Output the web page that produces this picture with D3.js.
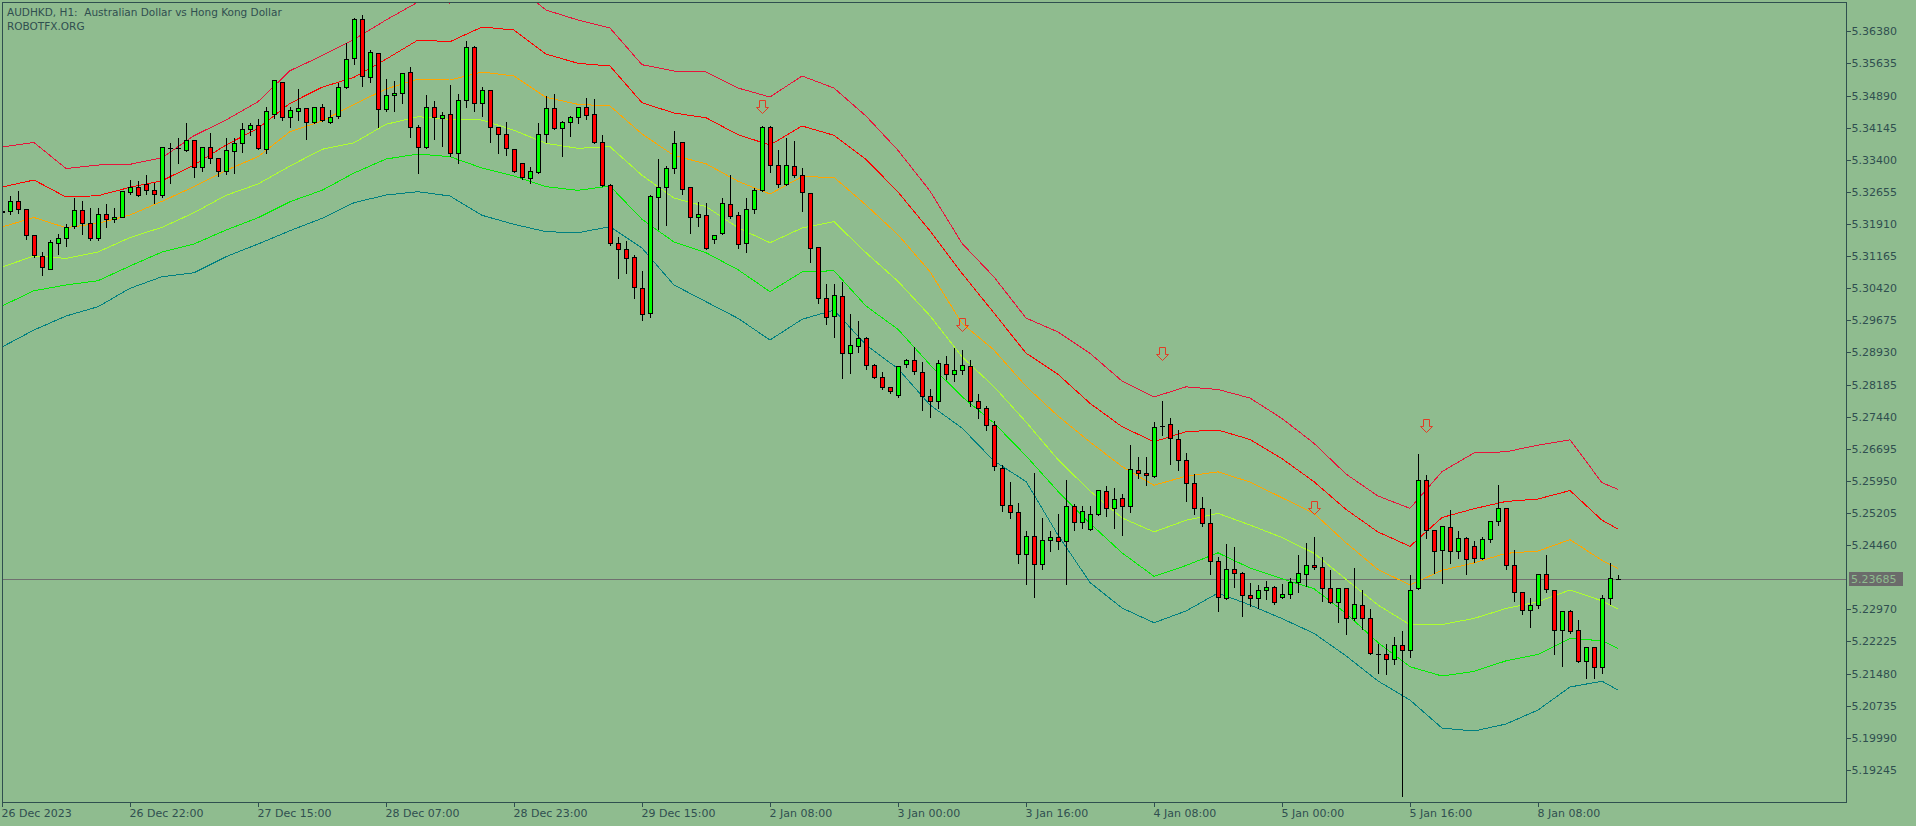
<!DOCTYPE html>
<html>
<head>
<meta charset="utf-8">
<title>AUDHKD, H1</title>
<script src="https://d3js.org/d3.v7.min.js"></script>
<style>
	body{
		margin: 0;
		background: #8fbc8f;
		overflow: hidden;
	}
	svg{
		display: block;
	}
	text{
		font-family: "DejaVu Sans", sans-serif;
		fill: #2f4f4f;
	}
</style>
</head>
<body>
<script>
// AUDHKD H1 candles, oldest first
var opens = [5.32199,5.32204,5.32443,5.32250,5.31647,5.31167,5.30872,5.31461,5.31577,5.31870,
5.32227,5.31925,5.31584,5.32134,5.32018,5.32079,5.32659,5.32775,5.32844,5.32691,
5.32575,5.33679,5.33665,5.33619,5.33851,5.33225,5.33696,5.33433,5.33132,5.33596,
5.33781,5.34113,5.34199,5.33642,5.34454,5.35211,5.34385,5.34524,5.34607,5.34269,
5.34631,5.34269,5.34426,5.35099,5.35753,5.36665,5.35313,5.35876,5.34570,5.34895,
5.34941,5.35429,5.34153,5.33689,5.34617,5.34361,5.34454,5.33549,5.34779,5.36009,
5.34709,5.35011,5.34167,5.33990,5.33649,5.33317,5.32969,5.33123,5.33990,5.34593,
5.34143,5.34269,5.34385,5.34617,5.34454,5.33819,5.32807,5.31461,5.31322,5.31137,
5.30417,5.29837,5.32529,5.32761,5.33201,5.33805,5.32761,5.32079,5.32111,5.31554,
5.31693,5.32366,5.32111,5.31461,5.32250,5.32691,5.34153,5.33271,5.32830,5.33248,
5.33039,5.32621,5.31376,5.30185,5.29768,5.30232,5.28909,5.29086,5.29271,5.28631,
5.28353,5.28121,5.27935,5.28661,5.28747,5.28469,5.27912,5.27796,5.28654,5.28422,
5.28515,5.28608,5.27796,5.27633,5.27246,5.26241,5.25390,5.25221,5.24246,5.24664,
5.24014,5.24571,5.24641,5.24548,5.25360,5.24989,5.24826,5.25174,5.25708,5.25313,
5.25545,5.25360,5.26195,5.26125,5.26056,5.27230,5.27262,5.26914,5.26427,5.25893,
5.25313,5.24965,5.24084,5.23225,5.23898,5.23805,5.23295,5.23225,5.23411,5.23481,
5.23249,5.23318,5.23597,5.23782,5.23991,5.23945,5.23457,5.23133,5.23457,5.22761,
5.23063,5.22761,5.21940,5.21926,5.21810,5.22135,5.22026,5.23457,5.25963,5.24803,
5.24339,5.24873,5.24316,5.24617,5.24432,5.24153,5.24594,5.25012,5.25313,5.23991,
5.23365,5.22947,5.23063,5.23782,5.23411,5.22484,5.22924,5.22484,5.21764,5.22089,
5.21625,5.23225,5.23685]
var highs = [5.32280,5.32582,5.32698,5.32273,5.31666,5.31290,5.31554,5.31693,5.31925,5.32529,
5.32466,5.32304,5.32304,5.32396,5.32311,5.32698,5.32946,5.32930,5.33069,5.32891,
5.33719,5.33819,5.33921,5.34269,5.33870,5.33707,5.34037,5.33452,5.33928,5.33928,
5.34269,5.34269,5.34368,5.34640,5.35273,5.35234,5.34647,5.35057,5.34631,5.34647,
5.34709,5.34570,5.35211,5.36125,5.36705,5.36781,5.35969,5.35900,5.35289,5.35250,
5.35429,5.35575,5.34222,5.34925,5.34786,5.34531,5.35157,5.34941,5.36178,5.36062,
5.35111,5.35030,5.34190,5.34299,5.33679,5.33331,5.33255,5.34269,5.34895,5.34955,
5.34322,5.34445,5.34647,5.34856,5.34825,5.33990,5.32867,5.31638,5.31538,5.31213,
5.30842,5.32605,5.33433,5.33278,5.34090,5.33823,5.32791,5.32443,5.32420,5.31670,
5.32529,5.33069,5.32211,5.32529,5.32761,5.34206,5.34199,5.33642,5.33921,5.33858,
5.33239,5.32640,5.31399,5.30533,5.30533,5.30580,5.29837,5.29675,5.29318,5.28677,
5.28492,5.28158,5.28638,5.28793,5.29072,5.28724,5.28097,5.28770,5.28863,5.29049,
5.29002,5.28770,5.27981,5.27710,5.27362,5.26341,5.25947,5.25453,5.24810,5.26149,
5.25105,5.24810,5.25204,5.25986,5.25429,5.25397,5.25390,5.25754,5.25847,5.25808,
5.25661,5.26798,5.26534,5.26534,5.27339,5.27826,5.27425,5.27146,5.26613,5.26125,
5.25592,5.25313,5.24200,5.24501,5.24432,5.23852,5.23597,5.23550,5.23643,5.23527,
5.23573,5.23713,5.24246,5.24525,5.24664,5.24200,5.23898,5.23495,5.23495,5.23945,
5.23434,5.22993,5.22181,5.22181,5.22344,5.22490,5.23789,5.26603,5.26109,5.24822,
5.24919,5.25297,5.24803,5.24664,5.24571,5.24664,5.25042,5.25870,5.25337,5.24362,
5.23383,5.23249,5.23805,5.24246,5.23434,5.22957,5.22970,5.22738,5.22096,5.22100,
5.23318,5.24061,5.23789]
var lows = [5.32164,5.32141,5.32171,5.31568,5.31151,5.30726,5.30858,5.31213,5.31399,5.31809,
5.31670,5.31538,5.31538,5.31847,5.31963,5.32065,5.32598,5.32559,5.32598,5.32403,
5.32543,5.32853,5.33331,5.33603,5.32993,5.33146,5.33317,5.33023,5.33069,5.33099,
5.33587,5.33967,5.33654,5.33549,5.34361,5.34322,5.34153,5.34322,5.33874,5.34245,
5.34306,5.34245,5.34368,5.35057,5.35614,5.35122,5.35215,5.34167,5.34538,5.34538,
5.34723,5.33935,5.33099,5.33672,5.33888,5.33726,5.33494,5.33331,5.34631,5.34538,
5.34415,5.33819,5.33549,5.33510,5.33109,5.32960,5.32867,5.33085,5.33819,5.34106,
5.33494,5.33951,5.34252,5.34345,5.33781,5.32791,5.31422,5.30663,5.30765,5.30199,
5.29682,5.29745,5.31786,5.31886,5.33099,5.32598,5.31707,5.31863,5.31329,5.31475,
5.31677,5.32055,5.31345,5.31267,5.32157,5.32675,5.33123,5.32761,5.32814,5.33007,
5.32218,5.31035,5.30083,5.29582,5.29295,5.28329,5.28445,5.28947,5.28538,5.28329,
5.28074,5.27981,5.27889,5.28585,5.28422,5.27587,5.27425,5.27647,5.28306,5.28260,
5.28422,5.27680,5.27401,5.27130,5.26202,5.25258,5.25095,5.24051,5.23550,5.23249,
5.23898,5.24330,5.24376,5.23550,5.24810,5.24863,5.24803,5.25151,5.25128,5.24856,
5.24687,5.25221,5.26009,5.25847,5.26040,5.27014,5.26348,5.26195,5.25490,5.25174,
5.24910,5.23782,5.22924,5.23202,5.23495,5.22808,5.23040,5.23007,5.23202,5.23086,
5.23232,5.23225,5.23365,5.23504,5.23898,5.23156,5.23109,5.22669,5.22390,5.22715,
5.22506,5.21926,5.21485,5.21462,5.21694,5.18639,5.21871,5.23441,5.24617,5.23819,
5.23587,5.24051,5.24167,5.23796,5.24061,5.24130,5.24525,5.24919,5.23898,5.23156,
5.22854,5.22567,5.22993,5.23365,5.21926,5.21648,5.22413,5.21741,5.21370,5.21370,
5.21485,5.23086,5.23673]
var closes = [5.32222,5.32443,5.32250,5.31647,5.31183,5.30905,5.31485,5.31577,5.31847,5.32227,
5.31925,5.31584,5.32134,5.32018,5.32079,5.32675,5.32775,5.32575,5.32691,5.32598,
5.33696,5.33679,5.33665,5.33851,5.33232,5.33689,5.33433,5.33132,5.33619,5.33781,
5.34113,5.34199,5.33677,5.34524,5.35250,5.34385,5.34554,5.34607,5.34269,5.34631,
5.34322,5.34399,5.35081,5.35749,5.36665,5.35343,5.35893,5.34570,5.34895,5.34941,
5.35405,5.34167,5.33689,5.34617,5.34385,5.34431,5.33549,5.34779,5.36009,5.34709,
5.35011,5.34167,5.33990,5.33665,5.33132,5.32993,5.33139,5.33990,5.34593,5.34143,
5.34269,5.34385,5.34617,5.34431,5.33819,5.32807,5.31461,5.31322,5.31113,5.30455,
5.29814,5.32559,5.32761,5.33201,5.33781,5.32714,5.32079,5.32134,5.31357,5.31659,
5.32389,5.32102,5.31438,5.32250,5.32691,5.34153,5.33271,5.32830,5.33271,5.33039,
5.32652,5.31345,5.30185,5.29745,5.30255,5.28909,5.29095,5.29271,5.28631,5.28353,
5.28121,5.28028,5.28619,5.28747,5.28492,5.27912,5.27796,5.28677,5.28422,5.28515,
5.28631,5.27796,5.27633,5.27246,5.26295,5.25390,5.25221,5.24246,5.24664,5.24014,
5.24571,5.24641,5.24548,5.25360,5.24989,5.25244,5.25174,5.25731,5.25313,5.25522,
5.25360,5.26218,5.26125,5.26079,5.27193,5.27230,5.26937,5.26427,5.25893,5.25313,
5.24965,5.24084,5.23249,5.23898,5.23805,5.23295,5.23225,5.23411,5.23481,5.23133,
5.23318,5.23597,5.23805,5.23991,5.23945,5.23457,5.23133,5.23457,5.22761,5.23086,
5.22761,5.21949,5.21940,5.21810,5.22135,5.22019,5.23411,5.25963,5.24803,5.24316,
5.24896,5.24316,5.24617,5.24130,5.24153,5.24594,5.25012,5.25313,5.23991,5.23365,
5.22947,5.23063,5.23782,5.23434,5.22484,5.22924,5.22460,5.21764,5.22089,5.21625,
5.23225,5.23689,5.23685]

// envelope bands, read every 4th bar (+ last bar)
var bandIdx = d3.range(0, 201, 4).concat([202])
var redOuter = [5.33696,5.33800,5.33197,5.33278,5.33294,5.33447,5.33958,5.34322,5.34747,5.35466,
5.35814,5.36194,5.36642,5.37060,5.37036,5.37524,5.37477,5.36874,5.36642,5.36456,
5.35605,5.35459,5.35436,5.35064,5.34856,5.35343,5.35064,5.34415,5.33619,5.32675,
5.31461,5.30680,5.29728,5.29404,5.28909,5.28267,5.27896,5.28132,5.28070,5.27872,
5.27397,5.26821,5.26109,5.25599,5.25313,5.26165,5.26599,5.26624,5.26780,5.26903,
5.25907,5.25754]
var redInner = [5.32768,5.32930,5.32536,5.32566,5.32761,5.32914,5.33278,5.33742,5.34129,5.34709,
5.35081,5.35313,5.35733,5.36178,5.36139,5.36480,5.36410,5.35853,5.35637,5.35575,
5.34723,5.34484,5.34375,5.33981,5.33742,5.34183,5.33967,5.33410,5.32652,5.31751,
5.30765,5.29844,5.28914,5.28422,5.27749,5.27207,5.26859,5.27091,5.27130,5.26910,
5.26464,5.25931,5.25288,5.24764,5.24432,5.25100,5.25304,5.25473,5.25529,5.25726,
5.25037,5.24833]
var orangeBand = [5.31840,5.32060,5.31823,5.31925,5.32118,5.32436,5.32775,5.33155,5.33471,5.34051,
5.34299,5.34686,5.35041,5.35273,5.35250,5.35436,5.35343,5.34849,5.34686,5.34647,
5.33997,5.33498,5.33308,5.32900,5.32605,5.33007,5.32993,5.32350,5.31661,5.30803,
5.29605,5.28986,5.28144,5.27455,5.26852,5.26283,5.25849,5.26058,5.26160,5.25924,
5.25559,5.25197,5.24515,5.23894,5.23534,5.23875,5.24047,5.24269,5.24323,5.24587,
5.24106,5.23921]
var yellowBand = [5.30912,5.31167,5.31113,5.31260,5.31596,5.31833,5.32171,5.32575,5.32837,5.33255,
5.33642,5.33795,5.34222,5.34399,5.34338,5.34322,5.34083,5.33781,5.33665,5.33703,
5.33039,5.32512,5.32315,5.31823,5.31475,5.31816,5.31963,5.31243,5.30580,5.29779,
5.28831,5.28135,5.27318,5.26443,5.25715,5.25091,5.24766,5.25035,5.25197,5.24926,
5.24636,5.24272,5.23666,5.23070,5.22613,5.22618,5.22759,5.22989,5.23147,5.23418,
5.23167,5.22977]
var greenBand = [5.30007,5.30362,5.30494,5.30594,5.30935,5.31260,5.31445,5.31770,5.32055,5.32427,
5.32691,5.33092,5.33417,5.33533,5.33471,5.33208,5.33023,5.32775,5.32691,5.32791,
5.32018,5.31492,5.31243,5.30849,5.30339,5.30796,5.30826,5.30007,5.29466,5.28645,
5.27903,5.27292,5.26531,5.25708,5.24965,5.24281,5.23736,5.23986,5.24281,5.23928,
5.23678,5.23448,5.22877,5.22200,5.21639,5.21423,5.21529,5.21775,5.21926,5.22297,
5.22239,5.22065]
var tealBand = [5.29056,5.29450,5.29775,5.29991,5.30417,5.30687,5.30779,5.31151,5.31445,5.31754,
5.32041,5.32403,5.32582,5.32659,5.32559,5.32111,5.31902,5.31731,5.31707,5.31847,
5.31352,5.30494,5.30107,5.29721,5.29218,5.29698,5.29914,5.29106,5.28552,5.27710,
5.27176,5.26411,5.25935,5.24694,5.23592,5.23000,5.22659,5.22931,5.23348,5.23070,
5.22755,5.22413,5.21891,5.21307,5.20866,5.20216,5.20147,5.20309,5.20634,5.21168,
5.21302,5.21098]

// sell arrows: bar index and arrow tip price
var arrowIdx = [95, 120, 145, 164, 178]
var arrowPrice = [5.34461, 5.29411, 5.28738, 5.25158, 5.27067]

var yTicks = [5.36380,5.35635,5.34890,5.34145,5.33400,5.32655,5.31910,5.31165,5.30420,5.29675,
5.28930,5.28185,5.27440,5.26695,5.25950,5.25205,5.24460,5.22970,5.22225,5.21480,
5.20735,5.19990,5.19245]
var xTickIdx = [0,16,32,48,64,80,96,112,128,144,160,176,192]
var xTickLabels = ['26 Dec 2023','26 Dec 22:00','27 Dec 15:00','28 Dec 07:00','28 Dec 23:00',
'29 Dec 15:00','2 Jan 08:00','3 Jan 00:00','3 Jan 16:00','4 Jan 08:00','5 Jan 00:00',
'5 Jan 16:00','8 Jan 08:00']
var lastPrice = 5.23685

var width = 1916, height = 826
var plotLeft = 2, plotRight = 1846, plotTop = 2, plotBottom = 802

var x = d3.scaleLinear().domain([0, (plotRight - plotLeft) / 8]).range([plotLeft, plotRight])
var y = d3.scaleLinear().domain([5.18493, 5.37053]).range([802.3, 2.3])
var px = v => Math.round(v) + 0.5

const svg = d3.select('body').append('svg')
	.attr('width', width)
	.attr('height', height)

svg.append('rect')
	.attr('width', width).attr('height', height)
	.attr('fill', '#8fbc8f')

svg.append('clipPath').attr('id', 'plotclip')
	.append('rect')
	.attr('x', plotLeft + 1).attr('y', plotTop + 1)
	.attr('width', plotRight - plotLeft - 1).attr('height', plotBottom - plotTop - 1)

const plot = svg.append('g').attr('clip-path', 'url(#plotclip)')

// current price line
plot.append('line')
	.attr('x1', plotLeft).attr('x2', plotRight)
	.attr('y1', px(y(lastPrice))).attr('y2', px(y(lastPrice)))
	.attr('stroke', '#707070')
	.attr('stroke-width', 1)
	.attr('shape-rendering', 'crispEdges')

// bands
var bands = [
	{data: tealBand, color: '#008080'},
	{data: greenBand, color: '#00f000'},
	{data: yellowBand, color: '#adff2f'},
	{data: orangeBand, color: '#ffa500'},
	{data: redInner, color: '#ff0000'},
	{data: redOuter, color: '#e8143c'}
]
var line = d3.line()
	.x(d => x(d[0]))
	.y(d => y(d[1]))
bands.forEach(function(b){
	plot.append('path')
		.datum(d3.zip(bandIdx, b.data))
		.attr('d', line)
		.attr('fill', 'none')
		.attr('stroke', b.color)
		.attr('stroke-width', 1)
		.attr('shape-rendering', 'crispEdges')
})

// candles
var bars = d3.range(opens.length).map(i => ({i: i, o: opens[i], h: highs[i], l: lows[i], c: closes[i]}))
const candles = plot.append('g').attr('shape-rendering', 'crispEdges')

candles.selectAll('line.wick').data(bars).enter()
	.append('line')
	.attr('class', 'wick')
	.attr('x1', d => px(x(d.i))).attr('x2', d => px(x(d.i)))
	.attr('y1', d => px(y(d.h))).attr('y2', d => px(y(d.l)))
	.attr('stroke', '#000')

candles.selectAll('rect.body').data(bars.filter(d => d.o !== d.c)).enter()
	.append('rect')
	.attr('class', 'body')
	.attr('x', d => px(x(d.i)) - 2)
	.attr('width', 4)
	.attr('y', d => px(y(Math.max(d.o, d.c))))
	.attr('height', d => Math.max(1, px(y(Math.min(d.o, d.c))) - px(y(Math.max(d.o, d.c)))))
	.attr('fill', d => d.c > d.o ? '#00ff00' : '#ff0000')
	.attr('stroke', '#000')

candles.selectAll('line.doji').data(bars.filter(d => d.o === d.c)).enter()
	.append('line')
	.attr('class', 'doji')
	.attr('x1', d => px(x(d.i)) - 2.5).attr('x2', d => px(x(d.i)) + 2.5)
	.attr('y1', d => px(y(d.o))).attr('y2', d => px(y(d.o)))
	.attr('stroke', '#000')

// sell arrows (hollow down arrows)
plot.selectAll('path.arrow').data(arrowIdx).enter()
	.append('path')
	.attr('class', 'arrow')
	.attr('transform', (d, k) => 'translate(' + px(x(d)) + ',' + px(y(arrowPrice[k])) + ')')
	.attr('d', 'M-3,-14L3,-14L3,-7L6,-7L0,-1L-6,-7L-3,-7Z')
	.attr('fill', 'none')
	.attr('stroke', '#e23c24')
	.attr('stroke-width', 1)
	.attr('stroke-linejoin', 'miter')

// frame
svg.append('rect')
	.attr('x', plotLeft + 0.5).attr('y', plotTop + 0.5)
	.attr('width', plotRight - plotLeft).attr('height', plotBottom - plotTop)
	.attr('fill', 'none')
	.attr('stroke', '#2f4f4f')
	.attr('shape-rendering', 'crispEdges')

// price axis
const yAxis = svg.append('g')
	.attr('transform', 'translate(' + (plotRight + 0.5) + ',0)')
	.call(d3.axisRight(y).tickValues(yTicks).tickFormat(d3.format('.5f')).tickSize(4).tickPadding(1).tickSizeOuter(0))
yAxis.select('.domain').remove()
yAxis.selectAll('line').attr('stroke', '#2f4f4f').attr('shape-rendering', 'crispEdges')
yAxis.selectAll('text')
	.attr('font-size', 11)
	.attr('font-family', '"DejaVu Sans", sans-serif')
	.attr('fill', '#2f4f4f')

// time axis
const xAxis = svg.append('g')
	.attr('transform', 'translate(0,' + (plotBottom + 0.5) + ')')
	.call(d3.axisBottom(x).tickValues(xTickIdx).tickFormat((d, k) => xTickLabels[k]).tickSize(4).tickPadding(3).tickSizeOuter(0))
xAxis.select('.domain').remove()
xAxis.selectAll('line').attr('stroke', '#2f4f4f').attr('shape-rendering', 'crispEdges')
xAxis.selectAll('text')
	.attr('text-anchor', 'start')
	.attr('dx', -1)
	.attr('font-size', 11)
	.attr('font-family', '"DejaVu Sans", sans-serif')
	.attr('fill', '#2f4f4f')

// last price label
var ly = y(lastPrice)
svg.append('rect')
	.attr('x', plotRight + 3).attr('y', Math.round(ly) - 7)
	.attr('width', 54).attr('height', 14)
	.attr('fill', '#6b6b6b')
svg.append('text')
	.attr('x', plotRight + 5).attr('y', ly + 4.5)
	.attr('font-size', 11)
	.style('fill', '#8fbc8f')
	.text(d3.format('.5f')(lastPrice))

// header
svg.append('text')
	.attr('x', 7).attr('y', 16)
	.attr('font-size', 10.5)
	.attr('xml:space', 'preserve')
	.style('white-space', 'pre')
	.text('AUDHKD, H1:  Australian Dollar vs Hong Kong Dollar')
svg.append('text')
	.attr('x', 7).attr('y', 30)
	.attr('font-size', 10.5)
	.text('ROBOTFX.ORG')
</script>
</body>
</html>
